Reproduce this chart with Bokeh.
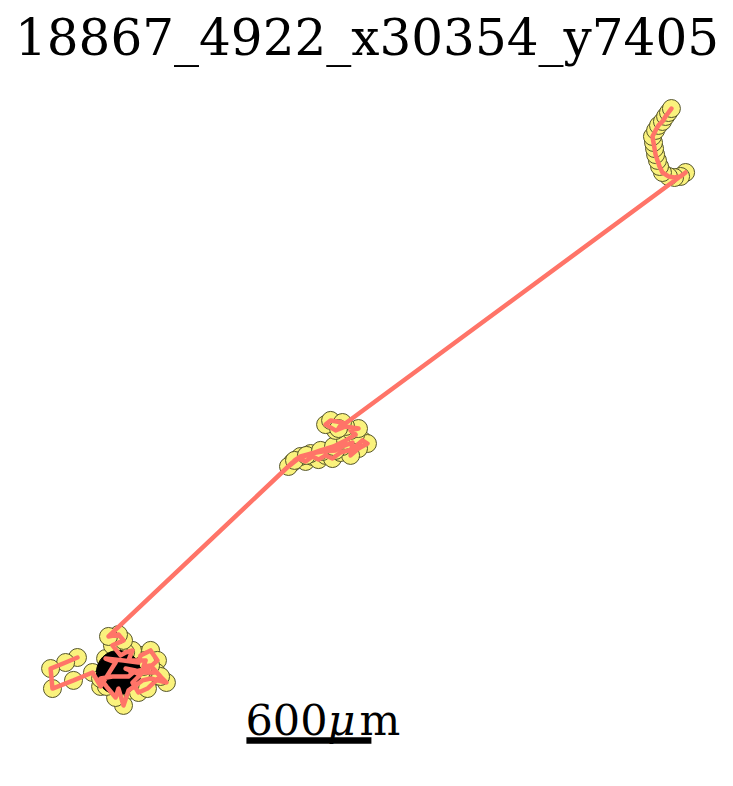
from bokeh.plotting import figure
from bokeh.models import Range1d, Label, ColumnDataSource
from bokeh.embed import file_html
from bokeh.resources import INLINE

title_text = "18867_4922_x30354_y7405"

# track positions in micrometres (start at origin), in visiting order
cluster1_x = [-197, -254, -326, -317, -216, -125, -86, -38, -14, -62, 24, 96, 106, 154, 187, 144, 58, 182, 230, 154,
              115, 82, 48, 24, 0, -14, -58, -86, -29, 48, 82, 34, 106, 67, 96, 139, 202, 154, 120, 130, 48, 67, 34,
              10, -29, 24, 0, -48]
cluster1_y = [72, 48, 19, -77, -38, 0, -67, 10, 48, 67, 58, 48, 82, 106, 58, 19, 0, 0, -48, -29,
              -38, -62, -86, -158, -77, -120, -67, -29, -19, -19, 10, 19, -10, -48, -96, -77, -19, 34, 29, 58, 58, 106,
              96, 82, 130, 154, 182, 173]
cluster2_x = [835, 816, 864, 898, 931, 960, 994, 1027, 1066, 1104, 1138, 1171, 1195, 1152, 1114, 1123, 1075, 1042,
              979, 922, 874, 845, 902, 970, 1032, 1090, 1138, 1114, 1152, 1090, 1042, 994, 1018, 1075, 1056]
cluster2_y = [1008, 989, 1027, 1013, 1037, 1022, 1042, 1027, 1056, 1066, 1085, 1114, 1099, 1075, 1042, 1104, 1085, 1066,
              1061, 1051, 1037, 1018, 1042, 1066, 1085, 1114, 1142, 1162, 1171, 1181, 1162, 1190, 1210, 1200, 1171]
cluster3_x = [2722, 2698, 2669, 2640, 2611, 2597, 2587, 2578, 2573, 2568, 2563, 2578, 2592, 2611, 2626, 2640, 2654]
cluster3_y = [2400, 2381, 2376, 2381, 2400, 2429, 2458, 2486, 2515, 2544, 2573, 2602, 2626, 2645, 2669, 2688, 2707]

track_x = cluster1_x + cluster2_x + cluster3_x
track_y = cluster1_y + cluster2_y + cluster3_y

start_x = [0]
start_y = [0]
start_radius_um = 106

scalebar_um = 600
scalebar_label = ["600", "\u03bc", "m"]

UM_PER_PX = 4.8
W, H = 733, 786
x0_px, y0_px = 118, 672

p = figure(width=W, height=H, output_backend="svg", toolbar_location=None,
           min_border=0, min_border_left=0, min_border_right=0, min_border_top=0, min_border_bottom=0,
           x_range=Range1d(-x0_px * UM_PER_PX, (W - x0_px) * UM_PER_PX),
           y_range=Range1d((y0_px - H) * UM_PER_PX, y0_px * UM_PER_PX))
p.axis.visible = False
p.grid.visible = False
p.outline_line_color = None
p.background_fill_color = "white"
p.border_fill_color = "white"

src = ColumnDataSource(dict(x=track_x, y=track_y))
p.scatter("x", "y", source=src, size=18, fill_color="#faf27d", line_color="#55552a", line_width=1)
p.circle(x=start_x, y=start_y, radius=start_radius_um, fill_color="black", line_color="black")
p.line("x", "y", source=src, line_color="#ff7468", line_width=4.5, line_join="round", line_cap="round")

# scale bar
bar_x0 = 614
bar_y = -326
p.segment(x0=[bar_x0], y0=[bar_y], x1=[bar_x0 + scalebar_um], y1=[bar_y], line_color="black", line_width=6.5)

lab_y = H - 719
p.add_layout(Label(x=245, y=lab_y, x_units="screen", y_units="screen", text=scalebar_label[0],
                   text_font="DejaVu Serif", text_font_size="43px", text_color="black",
                   text_baseline="alphabetic", text_align="left"))
p.add_layout(Label(x=327, y=lab_y, x_units="screen", y_units="screen", text=scalebar_label[1],
                   text_font="DejaVu Serif", text_font_style="italic", text_font_size="43px", text_color="black",
                   text_baseline="alphabetic", text_align="left"))
p.add_layout(Label(x=359, y=lab_y, x_units="screen", y_units="screen", text=scalebar_label[2],
                   text_font="DejaVu Serif", text_font_size="43px", text_color="black",
                   text_baseline="alphabetic", text_align="left"))

p.add_layout(Label(x=W / 2, y=H - 37, x_units="screen", y_units="screen", text=title_text,
                   text_font="DejaVu Serif", text_font_size="50px", text_color="black",
                   text_baseline="alphabetic", text_align="center"))

open("out.html", "w").write(file_html(p, INLINE))
